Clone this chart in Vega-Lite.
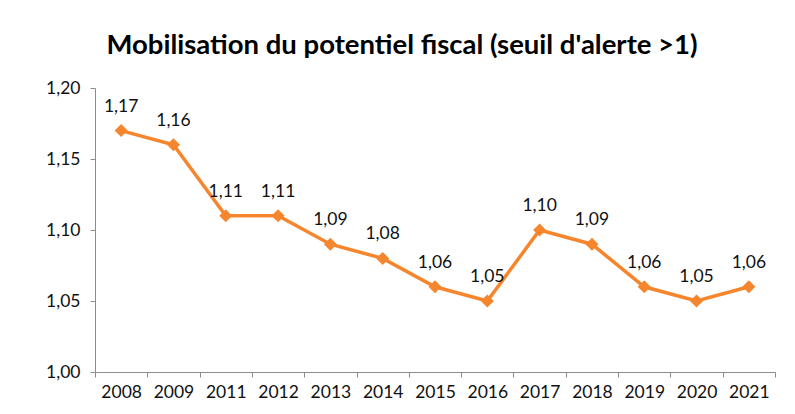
{
  "$schema": "https://vega.github.io/schema/vega-lite/v6.json",
  "autosize": {"type": "none"},
  "width": 680,
  "height": 284,
  "padding": {"left": 95, "top": 88, "right": 20, "bottom": 42},
  "background": "white",
  "config": {
    "locale": {"number": {"decimal": ",", "thousands": " ", "grouping": [3], "currency": ["", " €"]}},
    "view": {"stroke": null},
    "font": "Lato"
  },
  "title": {
    "text": "Mobilisation du potentiel fiscal (seuil d'alerte >1)",
    "fontSize": 27.5,
    "fontWeight": "bold",
    "font": "Lato",
    "color": "#000000",
    "anchor": "middle",
    "dx": -33,
    "offset": 20
  },
  "data": {
    "values": [
      {"annee": "2008", "valeur": 1.17},
      {"annee": "2009", "valeur": 1.16},
      {"annee": "2011", "valeur": 1.11},
      {"annee": "2012", "valeur": 1.11},
      {"annee": "2013", "valeur": 1.09},
      {"annee": "2014", "valeur": 1.08},
      {"annee": "2015", "valeur": 1.06},
      {"annee": "2016", "valeur": 1.05},
      {"annee": "2017", "valeur": 1.10},
      {"annee": "2018", "valeur": 1.09},
      {"annee": "2019", "valeur": 1.06},
      {"annee": "2020", "valeur": 1.05},
      {"annee": "2021", "valeur": 1.06}
    ]
  },
  "encoding": {
    "x": {
      "field": "annee",
      "type": "ordinal",
      "sort": null,
      "scale": {"type": "band", "paddingInner": 0, "paddingOuter": 0},
      "axis": {
        "title": null,
        "labelAngle": 0,
        "labelFontSize": 17.5,
        "labelColor": "#111111",
        "labelPadding": 6,
        "domainColor": "#8c8c8c",
        "tickColor": "#8c8c8c",
        "tickBand": "extent",
        "tickSize": 5,
        "grid": false
      }
    },
    "y": {
      "field": "valeur",
      "type": "quantitative",
      "scale": {"domain": [1, 1.2], "nice": false, "zero": false},
      "axis": {
        "title": null,
        "values": [1, 1.05, 1.1, 1.15, 1.2],
        "format": ".2f",
        "labelFontSize": 17.5,
        "labelColor": "#111111",
        "labelPadding": 10,
        "domainColor": "#8c8c8c",
        "tickColor": "#8c8c8c",
        "tickSize": 5,
        "grid": false
      }
    }
  },
  "layer": [
    {
      "mark": {"type": "line", "color": "#F5862E", "strokeWidth": 3.5}
    },
    {
      "mark": {"type": "point", "shape": "diamond", "filled": true, "color": "#F5862E", "size": 170, "opacity": 1}
    },
    {
      "mark": {"type": "text", "dy": -24, "fontSize": 17.5, "color": "#111111", "font": "Lato"},
      "encoding": {"text": {"field": "valeur", "type": "quantitative", "format": ".2f"}}
    }
  ]
}
